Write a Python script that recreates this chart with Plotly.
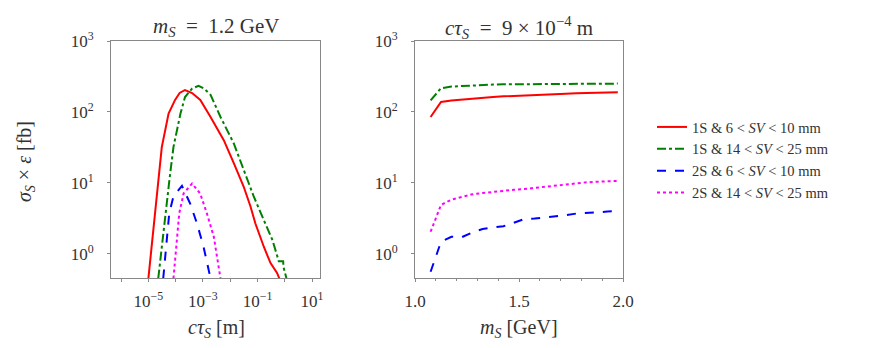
import plotly.graph_objects as go

# ---- left panel: m_S = 1.2 GeV, scan in c*tau ----
ctau_red = [1.0e-5, 1.8e-5, 3.1e-5, 5.5e-5, 9.5e-5, 1.4e-4, 2.2e-4, 4.0e-4, 8.0e-4, 1.9e-3,
            5.8e-3, 1.35e-2, 3.1e-2, 5.5e-2, 8.3e-2, 0.17, 0.30, 0.52, 0.63]
sig_red = [0.45, 3.7, 32, 95, 148, 185, 204, 185, 148, 85,
           40, 19, 8.9, 4.7, 2.7, 1.26, 0.74, 0.54, 0.45]

ctau_green = [2.3e-5, 3.1e-5, 4.1e-5, 5.9e-5, 8.3e-5, 1.5e-4, 2.2e-4, 4.0e-4, 6.9e-4, 1.1e-3,
              1.9e-3, 4.4e-3, 1.35e-2, 3.1e-2, 7.2e-2, 0.17, 0.35, 0.60, 0.69, 0.87, 0.89, 1.15]
sig_green = [0.45, 1.26, 3.7, 11, 32, 95, 162, 214, 234, 214,
             174, 85, 36, 15, 6.5, 3.0, 1.58, 0.79, 0.79, 0.79, 0.66, 0.45]

ctau_blue = [3.5e-5, 4.4e-5, 5.8e-5, 8.3e-5, 1.7e-4, 3.4e-4, 6.0e-4, 1.05e-3, 1.9e-3]
sig_blue = [0.45, 1.26, 3.7, 6.5, 9.1, 5.1, 2.7, 1.26, 0.45]

ctau_mag = [8.3e-5, 1.05e-4, 1.35e-4, 1.95e-4, 4.0e-4, 7.9e-4, 1.4e-3, 2.5e-3, 4.4e-3]
sig_mag = [0.45, 1.26, 3.7, 7.1, 9.8, 7.1, 3.7, 1.74, 0.45]

# ---- right panel: c*tau = 9e-4 m, scan in m_S ----
mass = [1.075, 1.125, 1.175, 1.225, 1.275, 1.325, 1.375, 1.425, 1.475, 1.525,
        1.575, 1.625, 1.675, 1.725, 1.775, 1.825, 1.875, 1.925, 1.975]
m_red = [85, 138, 145, 150, 155, 159, 163, 166, 169, 172, 174, 177, 179, 181, 183, 185, 187, 188, 189]
m_green = [146, 216, 228, 233, 238, 241, 243, 245, 246, 247, 248, 249, 250, 250, 251, 251, 251, 251, 251]
m_blue = [0.56, 1.48, 1.74, 1.72, 2.0, 2.24, 2.35, 2.45, 2.75, 3.1, 3.15, 3.25, 3.35, 3.5, 3.7, 3.75,
          3.85, 3.95, 4.05]
m_mag = [2.05, 4.9, 5.8, 6.3, 6.9, 7.2, 7.5, 7.8, 8.0, 8.2, 8.5, 8.9, 9.3, 9.6, 9.9, 10.2, 10.4, 10.6, 10.7]

names = ['1S &amp; 6 &lt; <i>SV</i> &lt; 10 mm', '1S &amp; 14 &lt; <i>SV</i> &lt; 25 mm',
         '2S &amp; 6 &lt; <i>SV</i> &lt; 10 mm', '2S &amp; 14 &lt; <i>SV</i> &lt; 25 mm']
colors = ['#ff0000', '#008000', '#0000ff', '#ff00ff']
dashes = ['solid', 'dashdot', 'dash', 'dot']

FONT = 'Liberation Serif'
TXT = '#333333'
W, H = 894, 348
OFF = 8  # page body margin, figure is drawn shifted by this much

fig = go.Figure()

left = [(ctau_red, sig_red), (ctau_green, sig_green), (ctau_blue, sig_blue), (ctau_mag, sig_mag)]
right = [m_red, m_green, m_blue, m_mag]

for i, (x, y) in enumerate(left):
    fig.add_trace(go.Scatter(x=x, y=y, mode='lines', name=names[i], showlegend=False,
                             line=dict(color=colors[i], dash=dashes[i], width=2),
                             xaxis='x', yaxis='y'))
for i, y in enumerate(right):
    fig.add_trace(go.Scatter(x=mass, y=y, mode='lines', name=names[i],
                             line=dict(color=colors[i], dash=dashes[i], width=2),
                             xaxis='x2', yaxis='y2'))

ytick = [1, 10, 100, 1000]
ytxt = ['10<sup>0</sup>', '10<sup>1</sup>', '10<sup>2</sup>', '10<sup>3</sup>']
xtick = [1e-6, 1e-5, 1e-4, 1e-3, 1e-2, 1e-1, 1, 10]
xtxt = ['', '10<sup>−5</sup>', '', '10<sup>−3</sup>', '', '10<sup>−1</sup>', '', '10<sup>1</sup>']

axis_common = dict(showline=True, mirror=True, linecolor='#888888', linewidth=1,
                   showgrid=False, zeroline=False, ticks='outside', ticklen=3,
                   tickcolor='#888888', automargin=False,
                   tickfont=dict(size=17, color=TXT, family=FONT))
title_font = dict(size=20, color=TXT, family=FONT)

top, bottom = 41 - OFF, 278 - OFF
plot_h = bottom - top


def px(x):
    return (x - OFF) / W


def py(y):
    # page pixel -> paper fraction of the plot area
    return 1 - (y - OFF - top) / plot_h


fig.update_layout(
    width=W, height=H,
    paper_bgcolor='white', plot_bgcolor='white',
    margin=dict(l=0, r=0, t=top, b=H - bottom),
    font=dict(family=FONT, color=TXT),
    xaxis=dict(type='log', domain=[px(111), px(320)], range=[-6.37, 1.29],
               tickvals=xtick, ticktext=xtxt, anchor='y', ticklabelstandoff=5, **axis_common),
    yaxis=dict(type='log', domain=[0, 1], range=[-0.34, 3.0], tickvals=ytick, ticktext=ytxt,
               anchor='x', ticklabelstandoff=10, **axis_common),
    xaxis2=dict(domain=[px(415), px(623)], range=[1.0, 2.0], tickvals=[1.0, 1.5, 2.0],
                ticktext=['1.0', '1.5', '2.0'], anchor='y2', ticklabelstandoff=5,
                minor=dict(dtick=0.1, ticks='outside', ticklen=2, tickcolor='#888888'),
                **axis_common),
    yaxis2=dict(type='log', domain=[0, 1], range=[-0.34, 3.0], tickvals=ytick, ticktext=ytxt,
                anchor='x2', ticklabelstandoff=10, **axis_common),
    legend=dict(x=px(652), y=py(111), xanchor='left', yanchor='top', bgcolor='rgba(0,0,0,0)',
                font=dict(size=14.5, color=TXT, family=FONT), tracegroupgap=0, itemwidth=30),
    annotations=[
        dict(text='<i>m</i><sub><i>S</i></sub>  =  1.2 GeV', x=px(216), y=py(27), xref='paper',
             yref='paper', xanchor='center', yanchor='middle', showarrow=False,
             font=dict(size=21, color=TXT, family=FONT)),
        dict(text='<i>cτ</i><sub><i>S</i></sub>  =  9 × 10<sup>−4</sup> m', x=px(519), y=py(27),
             xref='paper', yref='paper', xanchor='center', yanchor='middle', showarrow=False,
             font=dict(size=21, color=TXT, family=FONT)),
        dict(text='<i>cτ</i><sub><i>S</i></sub> [m]', x=px(216), y=py(328), xref='paper',
             yref='paper', xanchor='center', yanchor='middle', showarrow=False, font=title_font),
        dict(text='<i>m</i><sub><i>S</i></sub> [GeV]', x=px(519), y=py(328), xref='paper',
             yref='paper', xanchor='center', yanchor='middle', showarrow=False, font=title_font),
        dict(text='<i>σ</i><sub><i>S</i></sub> × <i>ε</i> [fb]', x=px(25), y=py(162), xref='paper',
             yref='paper', xanchor='center', yanchor='middle', textangle=-90, showarrow=False,
             font=title_font),
    ],
)

fig.write_html("out.html")
